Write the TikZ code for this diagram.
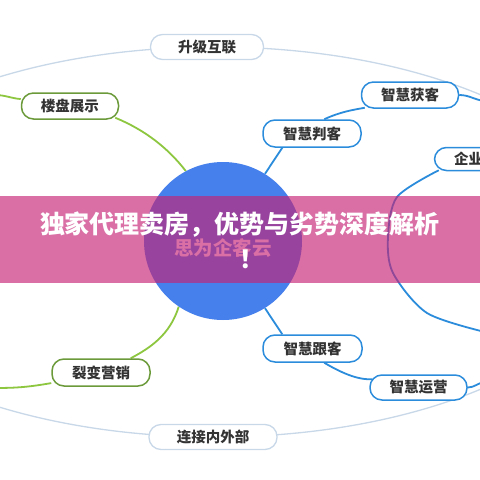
\documentclass[tikz,border=0pt]{standalone}
\usepackage{fontspec}
\setmainfont{Noto Sans CJK SC}
\usetikzlibrary{calc,backgrounds}
\definecolor{ringc}{HTML}{C8D8E8}
\definecolor{greenl}{HTML}{8DC63F}
\definecolor{greenb}{HTML}{6B9A3A}
\definecolor{bluel}{HTML}{2B8CDC}
\definecolor{circc}{HTML}{4580EC}
\definecolor{txtc}{HTML}{333333}
\definecolor{pinkb}{RGB}{197,35,117}
\begin{document}
\begin{tikzpicture}[x=1pt,y=-1pt,
  pill/.style={draw, fill=white, rounded corners=12pt, line width=1.5pt, minimum height=26pt, inner sep=0pt, text=txtc, font=\bfseries\fontsize{14.5}{16}\selectfont},
  ringpill/.style={pill, draw=ringc, line width=1.3pt},
  greenpill/.style={pill, draw=greenb},
  bluepill/.style={pill, draw=bluel},
  ringline/.style={draw=ringc, line width=1.3pt},
  gline/.style={draw=greenl, line width=1.8pt},
  bline/.style={draw=bluel, line width=1.8pt}]
\useasboundingbox (0,0) rectangle (480,480);
\clip (0,0) rectangle (480,480);
% centre
\node[circle, fill=circc, minimum size=158pt, inner sep=0pt] (c) at (223,241) {};
\node[text=white, font=\bfseries\fontsize{19.5}{20}\selectfont] (ct) at (223,248) {思为企客云};
% nodes
\node[ringpill, minimum width=113pt, minimum height=25pt] (sj) at (207,47) {升级互联};
\node[ringpill, minimum width=128pt, minimum height=25pt] (lj) at (213,437) {连接内外部};
\node[greenpill, minimum width=97pt] (lp) at (70,106) {楼盘展示};
\node[greenpill, minimum width=98pt, minimum height=27pt] (lb) at (101,372.5) {裂变营销};
\node[bluepill, minimum width=97pt] (hk) at (410,95) {智慧获客};
\node[bluepill, minimum width=98pt, minimum height=27pt] (pk) at (312,133.5) {智慧判客};
\node[bluepill, minimum width=99pt, minimum height=27pt] (gk) at (312.5,348.5) {智慧跟客};
\node[bluepill, minimum width=97pt, minimum height=25pt] (yy) at (418.5,387.5) {智慧运营};
\node[bluepill, minimum width=97pt, minimum height=23pt] (qy) at (483,159) {企业微信};
% off-canvas ends
\coordinate (e) at (215,242);
\coordinate (gl1) at (-5,95);
\coordinate (gl2) at (-5,388);
\coordinate (bl1) at (485,101);
\coordinate (bl2) at (485,382);
\coordinate (qa) at ($(qy.south west)+(5,-1)$);
\begin{scope}[on background layer]
\fill[white] (0,0) rectangle (480,480);
\draw[ringline] (e) ellipse [x radius=405pt, y radius=195pt];
\draw[gline] (gl1) to[out=0,in=175] (lp.172);
\draw[gline] ($(lp.south east)+(-4,-2)$) .. controls (145,130) and (168,148) .. (c.118);
\draw[gline] (c.236) .. controls (170,335) and (150,348) .. ($(lb.north east)+(-20,0)$);
\draw[gline] (lb.192) to[out=190,in=0] (gl2);
\draw[bline] (c.58) -- ($(pk.south west)+(20,0)$);
\draw[bline] ($(pk.north west)+(62,0)$) .. controls (340,112) and (352,110) .. ($(hk.south west)+(4,-1)$);
\draw[bline] (hk.east) to[out=0,in=175] (bl1);
\draw[bline] (c.-58) -- ($(gk.north west)+(20,0)$);
\draw[bline] ($(gk.south west)+(62,0)$) .. controls (345,375) and (360,380) .. ($(yy.north west)+(3,5)$);
\draw[bline] (yy.east) to[out=0,in=185] (bl2);
\draw[bline] plot[smooth] coordinates {(qa) (397,197) (388,237) (393,273) (427,313) (485,332)};
\end{scope}
% banner
\fill[pinkb, opacity=0.65] (0,196) rectangle (480,283);
\node[text=white, align=center, font=\bfseries\fontsize{25}{35}\selectfont] (title) at (240,240.5) {独家代理卖房，优势与劣势深度解析\\\hspace*{24pt}！};
\end{tikzpicture}
\end{document}
